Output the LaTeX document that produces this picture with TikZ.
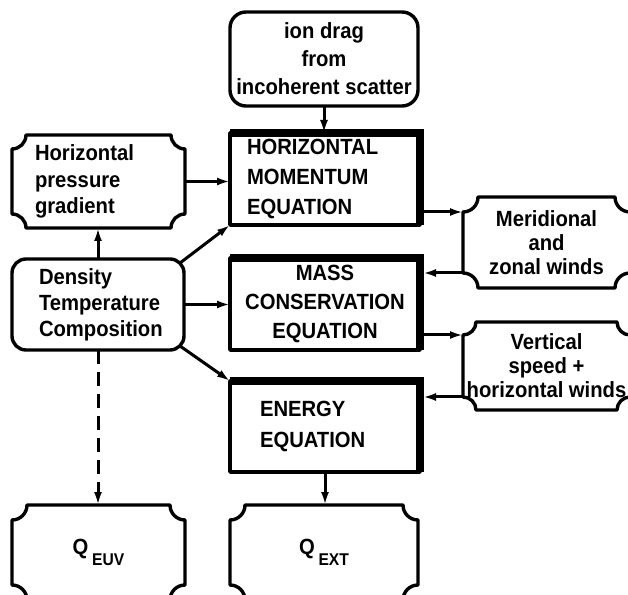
\documentclass[tikz,border=0pt]{standalone}
\usepackage{fontspec}
\setmainfont{Liberation Sans}[FakeStretch=0.92]
\usepackage{tikz}
\usetikzlibrary{arrows.meta}
\tikzstyle{boxline} = [line width=3.4pt, line join=round]
\tikzstyle{arrow} = [line width=3pt, -{Latex[length=13pt,width=8pt]}]
\tikzstyle{heavy} = [line width=8pt, line join=miter]
\tikzstyle{txt} = [font=\bfseries\fontsize{22}{27}\selectfont, inner sep=0pt, outer sep=0pt]
\tikzstyle{rbox} = [txt, boxline, draw, rounded corners=16pt]
\tikzstyle{eqbox} = [txt, boxline, draw]
\tikzstyle{tbox} = [txt]

% box with hollow corners
\newcommand{\ticketbox}[2]{%
  \draw[boxline] ([xshift=#2]#1.north west) -- ([xshift=-#2]#1.north east)
    arc[start angle=180, end angle=270, radius=#2]
    -- ([yshift=#2]#1.south east)
    arc[start angle=90, end angle=180, radius=#2]
    -- ([xshift=#2]#1.south west)
    arc[start angle=0, end angle=90, radius=#2]
    -- ([yshift=-#2]#1.north west)
    arc[start angle=270, end angle=360, radius=#2] -- cycle;}

\begin{document}
\begin{tikzpicture}[x=1pt, y=1pt]
\clip (0,0) rectangle (628,594);

% Equations
\node[eqbox, minimum width=190pt, minimum height=92pt, text width=156pt, align=left,
  font=\bfseries\fontsize{22}{30}\selectfont] (hme) at (325,415)
  {HORIZONTAL\\MOMENTUM\\EQUATION};
\node[eqbox, minimum width=190pt, minimum height=92pt, align=center,
  font=\bfseries\fontsize{22}{29}\selectfont] (mce) at (325,290)
  {MASS\\CONSERVATION\\EQUATION};
\node[eqbox, minimum width=190pt, minimum height=91pt, text width=130pt, align=left,
  font=\bfseries\fontsize{22}{31}\selectfont] (ee) at (325,167.5)
  {ENERGY\\EQUATION};
\foreach \n in {hme,mce,ee}
  \draw[heavy] (\n.north west) -- (\n.north east) -- (\n.south east);

% Inputs
\node[rbox, minimum width=188pt, minimum height=94pt, align=center,
  font=\bfseries\fontsize{22}{28}\selectfont] (ion) at (324,535)
  {ion drag\\from\\incoherent scatter};
\node[rbox, rounded corners=14pt, minimum width=172pt, minimum height=91pt,
  text width=118pt, align=left, font=\bfseries\fontsize{22}{26}\selectfont] (dtc) at (98,289.5)
  {Density\\Temperature\\Composition};
\node[tbox, minimum width=173pt, minimum height=93pt, text width=127pt, align=left,
  font=\bfseries\fontsize{22}{26.5}\selectfont] (hpg) at (98.5,412.5)
  {Horizontal\\pressure\\gradient};

% Outputs
\node[tbox, minimum width=167pt, minimum height=91pt, align=center,
  font=\bfseries\fontsize{22}{24}\selectfont] (mer) at (546.5,351.5)
  {Meridional\\and\\zonal winds};
\node[tbox, minimum width=167pt, minimum height=88pt, align=center,
  font=\bfseries\fontsize{22}{24}\selectfont] (vs) at (546.5,228)
  {Vertical\\speed +\\horizontal winds};
\node[tbox, minimum width=173pt, minimum height=95pt] (qeuv) at (98.5,41.5)
  {Q\,\raisebox{-11pt}{\fontsize{17}{17}\selectfont EUV}};
\node[tbox, minimum width=188pt, minimum height=95pt] (qext) at (324,41.5)
  {Q\,\raisebox{-11pt}{\fontsize{17}{17}\selectfont EXT}};
\foreach \n/\r in {hpg/14pt, mer/15pt, vs/13pt, qeuv/15pt, qext/15pt}
  \ticketbox{\n}{\r};

% Arrows
\draw[arrow] (ion.south) -- (ion.south |- hme.north);
\draw[arrow] (hpg.east) -- (hpg.east -| hme.west);
\draw[arrow] (dtc.north) -- (dtc.north |- hpg.south);
\draw[arrow] ([shift={(-4pt,-4pt)}]dtc.north east) -- (hme.south west);
\draw[arrow] (dtc.east) -- (dtc.east -| mce.west);
\draw[arrow] ([shift={(-4pt,4pt)}]dtc.south east) -- (ee.north west);
\draw[arrow, dash pattern=on 14pt off 8pt] (dtc.south) -- (dtc.south |- qeuv.north);
\draw[arrow] (ee.south) -- (ee.south |- qext.north);

\coordinate (m1) at ([yshift=-15pt]mer.north west);
\coordinate (m2) at ([yshift=15pt]mer.south west);
\coordinate (v1) at ([yshift=-13pt]vs.north west);
\coordinate (v2) at ([yshift=13pt]vs.south west);
\draw[arrow] (hme.east |- m1) -- (m1);
\draw[arrow, shorten >=3pt] (m2) -- (m2 -| mce.east);
\draw[arrow] (mce.east |- v1) -- (v1);
\draw[arrow, shorten >=3pt] (v2) -- (v2 -| ee.east);
\end{tikzpicture}
\end{document}
